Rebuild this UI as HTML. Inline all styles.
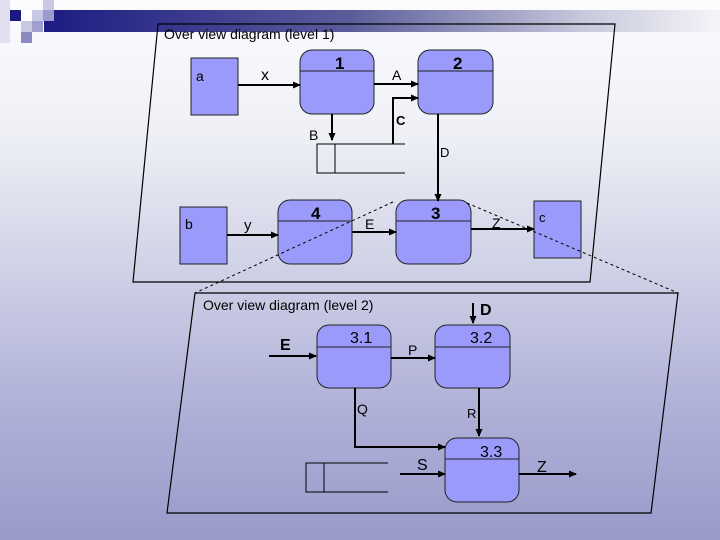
<!DOCTYPE html>
<html><head><style>
html,body{margin:0;padding:0}
body{width:720px;height:540px;overflow:hidden;position:relative;background:linear-gradient(#fcfcfe 0%,#eef0f6 25%,#cfd1e6 50%,#b0b1d8 75%,#9a9acb 100%);font-family:"Liberation Sans",sans-serif}
svg{position:absolute;left:0;top:0}
</style></head><body>
<svg width="720" height="540" viewBox="0 0 720 540">
<defs>
<linearGradient id="bn" x1="0" x2="1"><stop offset="0" stop-color="#1c1c82"/><stop offset="0.45" stop-color="#5a5c9a"/><stop offset="0.8" stop-color="#c8c9dc"/><stop offset="1" stop-color="#f4f4f8"/></linearGradient>
<marker id="ar" markerWidth="8" markerHeight="8" refX="7" refY="4" orient="auto" markerUnits="userSpaceOnUse"><path d="M0,0.5 L8,4 L0,7.5z" fill="#000"/></marker>
</defs>
<rect x="44" y="10" width="676" height="22" fill="url(#bn)"/>
<rect x="0" y="0" width="10" height="43" fill="#e0e0f0"/>
<rect x="10" y="10" width="11" height="11" fill="#1a1a80"/>
<rect x="21" y="10" width="11" height="11" fill="#ffffff"/>
<rect x="32" y="10" width="11" height="11" fill="#c8c8e4"/>
<rect x="43" y="0" width="11" height="10" fill="#c8c8e4"/>
<rect x="43" y="10" width="11" height="11" fill="#9a9ad0"/>
<rect x="21" y="21" width="11" height="11" fill="#c8c8e4"/>
<rect x="32" y="21" width="11" height="11" fill="#a0a0d0"/>
<rect x="21" y="32" width="11" height="11" fill="#8a8ac0"/>

<g fill="none" stroke="#000" stroke-width="1.2">
<polygon points="158,24 615,24 590,282 133,282"/>
<polygon points="195,293 678,293 651,513 167,513"/>
</g>

<g fill="#9a9afa" stroke="#222" stroke-width="1">
<rect x="191" y="58" width="47" height="57"/>
<rect x="180" y="207" width="47" height="57"/>
<rect x="534" y="201" width="47" height="57"/>
<rect x="300" y="50" width="74" height="64" rx="12"/>
<rect x="418" y="50" width="75" height="64" rx="12"/>
<rect x="278" y="200" width="74" height="64" rx="12"/>
<rect x="396" y="200" width="75" height="64" rx="12"/>
<rect x="317" y="325" width="74" height="63" rx="12"/>
<rect x="435" y="325" width="75" height="63" rx="12"/>
<rect x="445" y="438" width="74" height="64" rx="12"/>
</g>
<g stroke="#222" stroke-width="1">
<line x1="300" y1="71" x2="374" y2="71"/>
<line x1="418" y1="71" x2="493" y2="71"/>
<line x1="278" y1="221" x2="352" y2="221"/>
<line x1="396" y1="221" x2="471" y2="221"/>
<line x1="317" y1="347" x2="391" y2="347"/>
<line x1="435" y1="347" x2="510" y2="347"/>
<line x1="445" y1="459" x2="519" y2="459"/>
</g>
<g stroke="#000" stroke-width="1" stroke-dasharray="3,3" fill="none">
<line x1="393" y1="202" x2="195" y2="293"/>
<line x1="467" y1="203" x2="678" y2="293"/>
</g>
<g stroke="#000" stroke-width="1" fill="none">
<polyline points="405,144 317,144 317,173 405,173"/><line x1="335" y1="144" x2="335" y2="173"/>
<polyline points="388,463 306,463 306,492 388,492"/><line x1="324" y1="463" x2="324" y2="492"/>
</g>
<g stroke="#000" stroke-width="2" fill="none" marker-end="url(#ar)">
<line x1="238" y1="85" x2="300" y2="85"/>
<line x1="374" y1="84" x2="418" y2="84"/>
<polyline points="393,144 393,98 418,98"/>
<line x1="332" y1="114" x2="332" y2="140"/>
<line x1="438" y1="114" x2="438" y2="201"/>
<line x1="227" y1="235" x2="278" y2="235"/>
<line x1="352" y1="232" x2="396" y2="232"/>
<line x1="471" y1="229" x2="534" y2="229"/>
<line x1="269" y1="356" x2="316" y2="356"/>
<line x1="391" y1="358" x2="435" y2="358"/>
<line x1="473" y1="303" x2="473" y2="323"/>
<line x1="479" y1="388" x2="479" y2="436"/>
<polyline points="355,388 355,447 445,447"/>
<line x1="400" y1="474" x2="445" y2="474"/>
<line x1="519" y1="474" x2="576" y2="474"/>
</g>
<g font-family="Liberation Sans, sans-serif" fill="#000">
<text x="164" y="39" font-size="14">Over view diagram (level 1)</text>
<text x="203" y="310" font-size="14">Over view diagram (level 2)</text>
<text x="196" y="81" font-size="14">a</text>
<text x="185" y="229" font-size="14">b</text>
<text x="539" y="222" font-size="13">c</text>
<text x="261" y="80" font-size="16">x</text>
<text x="244" y="230" font-size="15">y</text>
<text x="392" y="80" font-size="14">A</text>
<text x="309" y="140" font-size="14">B</text>
<text x="396" y="125" font-size="13" font-weight="bold">C</text>
<text x="440" y="157" font-size="13">D</text>
<text x="365" y="229" font-size="14">E</text>
<text x="492" y="228" font-size="14">Z</text>
<text x="335" y="69" font-size="17" font-weight="bold">1</text>
<text x="453" y="69" font-size="17" font-weight="bold">2</text>
<text x="311" y="219" font-size="17" font-weight="bold">4</text>
<text x="431" y="219" font-size="17" font-weight="bold">3</text>
<text x="350" y="343" font-size="16">3.1</text>
<text x="470" y="343" font-size="16">3.2</text>
<text x="480" y="457" font-size="16">3.3</text>
<text x="280" y="350" font-size="16" font-weight="bold">E</text>
<text x="480" y="315" font-size="16" font-weight="bold">D</text>
<text x="408" y="355" font-size="14">P</text>
<text x="357" y="414" font-size="14">Q</text>
<text x="467" y="418" font-size="13">R</text>
<text x="417" y="470" font-size="16">S</text>
<text x="537" y="472" font-size="16">Z</text>
</g>
</svg>
</body></html>
